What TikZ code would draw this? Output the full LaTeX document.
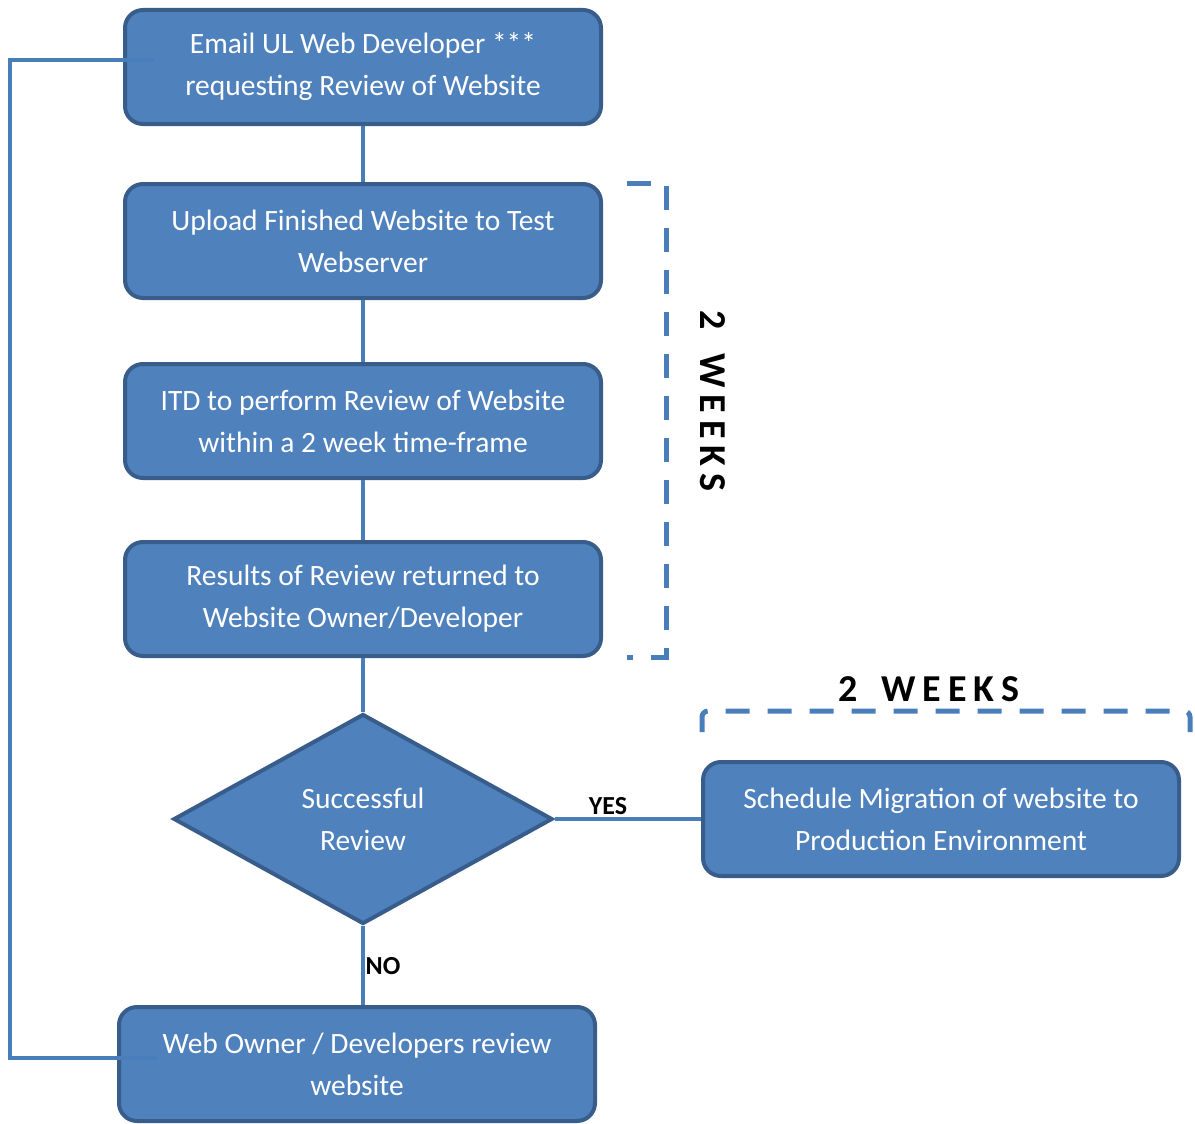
\documentclass[tikz,border=0pt]{standalone}
\usepackage{fontspec}
\setmainfont{Carlito}
\usepackage{xcolor}
\usepackage{tikz}
\usetikzlibrary{positioning,shapes.geometric}

\definecolor{boxfill}{HTML}{4F81BD}
\definecolor{boxedge}{HTML}{385D8A}
\definecolor{linkblue}{HTML}{4A7EBB}

\begin{document}
\begin{tikzpicture}[
            x=1pt, y=-1pt,
            stepbox/.style={rectangle, rounded corners=18pt, draw=boxedge, line width=4pt, fill=boxfill, text=white, align=center, minimum width=476pt, minimum height=114pt, font=\fontsize{29.5}{42}\selectfont},
            decision/.style={diamond, draw=boxedge, line width=4pt, fill=boxfill, text=white, align=center, minimum width=379pt, minimum height=210pt, inner sep=0pt, font=\fontsize{29.5}{42}\selectfont},
            link/.style={draw=linkblue, line width=4pt},
            bracket/.style={draw=linkblue, line width=5pt, dash pattern=on 24pt off 18pt},
            weeks/.style={font=\bfseries\fontsize{38}{40}\selectfont\addfontfeature{LetterSpace=18}},
            answer/.style={font=\bfseries\fontsize{26}{28}\selectfont}
        ]
            \useasboundingbox (0,0) rectangle (1195,1124);
            % Steps
            \node[stepbox] (email) at (363, 67) {Email UL Web Developer ***\\requesting Review of Website};
            \node[stepbox] (upload) at (363, 241) {Upload Finished Website to Test\\Webserver};
            \node[stepbox] (review) at (363, 421) {ITD to perform Review of Website\\within a 2 week time-frame};
            \node[stepbox] (results) at (363, 599) {Results of Review returned to\\Website Owner/Developer};
            \node[decision] (success) at (363, 819) {Successful\\Review};
            \node[stepbox] (schedule) at (941, 819) {Schedule Migration of website to\\Production Environment};
            \node[stepbox] (owner) at (357, 1064) {Web Owner / Developers review\\website};
            % Edges
            \draw[link] (email.south) -- (upload.north);
            \draw[link] (upload.south) -- (review.north);
            \draw[link] (review.south) -- (results.north);
            \draw[link] (results.south) -- (success.north);
            \draw[link] (success.east) -- (schedule.west);
            \draw[link] (success.south) -- (success.south |- owner.north);
            \draw[link] ([xshift=40pt,yshift=6pt]owner.west) -| (10,60) -- ([xshift=31pt,yshift=7pt]email.west); % back to start
            % Labels
            \node[answer] (yes) at (608, 806) {YES};
            \node[answer] (no) at (383, 966) {NO};
            % Time brackets
            \draw[bracket] (627,183) -- (666,183) -- (666,657) -- (627,657);
            \node[weeks, rotate=-90] (weeksv) at (713, 401) {2\kern8pt\ WEEKS};
            \draw[bracket, rounded corners=6pt] (702,732) -- (702,711) -- (1190,711) -- (1190,732);
            \node[weeks] (weeksh) at (929, 689) {2\kern8pt\ WEEKS};
        \end{tikzpicture}
\end{document}
